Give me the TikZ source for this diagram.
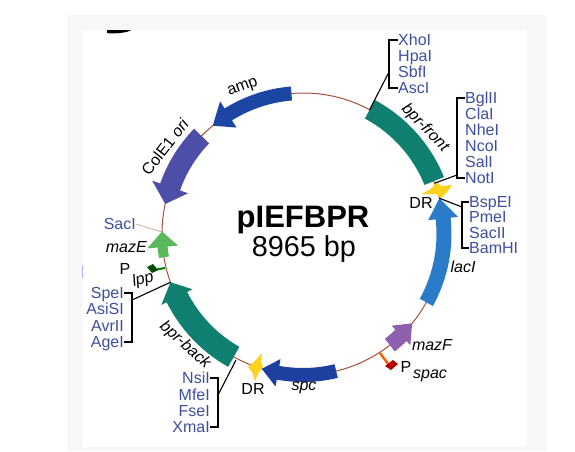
\documentclass[tikz,border=0pt]{standalone}
\usepackage{fontspec}
\setmainfont{Liberation Sans}
\definecolor{ringcol}{HTML}{A8533C}
\definecolor{sitecol}{HTML}{3F4F9F}
\definecolor{bprcol}{HTML}{0F8070}
\definecolor{ampcol}{HTML}{1C46A4}
\definecolor{oricol}{HTML}{4C4EA8}
\definecolor{mazEcol}{HTML}{5CB85C}
\definecolor{lacIcol}{HTML}{2A7CC8}
\definecolor{mazFcol}{HTML}{9060B0}
\definecolor{spccol}{HTML}{1C3FA0}
\definecolor{drcol}{HTML}{FFD21E}
\tikzset{
  site/.style={text=sitecol, inner sep=0pt, font=\fontsize{16}{16}\selectfont, text height=11.5pt, text depth=0pt},
  sitel/.style={site, anchor=west},
  siter/.style={site, anchor=east},
  gene/.style={inner sep=0pt, font=\fontsize{16}{16}\selectfont\itshape},
  plain/.style={inner sep=0pt, font=\fontsize{16}{16}\selectfont},
  bracket/.style={black, line width=1.3pt},
  leader/.style={black, line width=1.1pt},
}
% tail angle, head base angle, tip angle, half width, half head width
\newcommand{\plasmidarrow}[6]{%
  \fill[#1] ({#2}:{141+#5}) arc[start angle=#2, end angle=#3, radius={141+#5}]
    -- ({#3}:{141+#6}) -- ({#4}:141) -- ({#3}:{141-#6}) -- ({#3}:{141-#5})
    arc[start angle=#3, end angle=#2, radius={141-#5}] -- cycle;}
\begin{document}
\begin{tikzpicture}[x=1pt,y=1pt]
  % Fondo
  \useasboundingbox (0,0) rectangle (575,-451);
  \fill[white] (0,0) rectangle (575,-451);
  \fill[black!3, rounded corners=3pt] (67,-15) rectangle (547,-451);
  \fill[white] (82,-30) rectangle (527,-447);
  \fill[black] (107,-30) -- (131,-30) .. controls (128,-33) and (112,-34) .. (107,-33) -- cycle;
  \fill[blue!30] (81.5,-265) rectangle (82.5,-278);

  % Plasmido
  \begin{scope}[shift={(303,-234)}]
    \draw[ringcol, line width=1pt] (0,0) circle (141);
    \coordinate (frontEnd) at (61.8:141);
    \coordinate (lacTip) at (14.7:141);
    \coordinate (backTip) at (200:141);
    % Genes
    \fill[bprcol] (61.8:152) arc[start angle=61.8, end angle=22, radius=152]
      -- (22:131) arc[start angle=22, end angle=61.8, radius=131] -- cycle;
    \plasmidarrow{ampcol}{94.7}{122}{129.8}{7}{15.5}
    \plasmidarrow{oricol}{136}{160.5}{167.7}{10.5}{19}
    \plasmidarrow{mazEcol}{189.5}{185.3}{179}{5}{15.5}
    \plasmidarrow{bprcol}{240.6}{206.6}{200}{11.5}{17.5}
    \plasmidarrow{spccol}{283.6}{259.8}{253}{7}{14}
    \plasmidarrow{mazFcol}{-52}{-46}{-39.3}{8}{13.5}
    \plasmidarrow{lacIcol}{-29}{6.3}{14.7}{7.5}{15}
  \end{scope}

  % DR
  \fill[drcol] (422,-194) -- (432,-188) -- (436,-182) -- (441,-186) -- (452,-185)
    -- (447,-192) -- (441,-198) -- (436,-194) -- cycle;
  \fill[drcol] (248,-367) -- (255,-361) -- (262,-353) -- (261,-362) -- (263,-367)
    -- (259,-372) -- (255,-381) -- (252,-372) -- cycle;

  % Promotores
  \draw[green!50!black, line width=2pt] (165,-268) -- (154,-270);
  \fill[green!30!black] (147,-267) -- (153,-264) -- (158,-270) -- (152,-273) -- cycle;
  \draw[orange!70!red, line width=2.4pt] (380,-353) -- (389,-365);
  \fill[red!70!black] (385,-366) -- (393,-360) -- (398,-364) -- (391,-370) -- cycle;

  % Titulo
  \node[inner sep=0pt, font=\fontsize{31}{32}\selectfont\bfseries] (title) at (303,-220) {pIEFBPR};
  \node[inner sep=0pt, font=\fontsize{28.8}{30}\selectfont] (size) at (304,-249) {8965 bp};

  % Sitios de restriccion
  \node[sitel] (XhoI) at (398,-40) {XhoI};
  \node[sitel] (HpaI) at (398,-56) {HpaI};
  \node[sitel] (SbfI) at (398,-72) {SbfI};
  \node[sitel] (AscI) at (398,-88) {AscI};
  \coordinate (brkA) at (389,-72);
  \draw[bracket] (XhoI.west) -| (brkA) |- (AscI.west);
  \draw[leader] (brkA) -- (frontEnd);

  \node[sitel] (BglII) at (465,-98) {BglII};
  \node[sitel] (ClaI) at (465,-114) {ClaI};
  \node[sitel] (NheI) at (465,-130) {NheI};
  \node[sitel] (NcoI) at (465,-146) {NcoI};
  \node[sitel] (SalI) at (465,-162) {SalI};
  \node[sitel] (NotI) at (465,-178) {NotI};
  \coordinate (brkB) at (457,-175);
  \coordinate (frontFoot) at (435,-183);
  \draw[bracket] (BglII.west) -| (brkB) |- (NotI.west);
  \draw[leader] (brkB) -- (frontFoot);

  \node[sitel] (BspEI) at (469,-202) {BspEI};
  \node[sitel] (PmeI) at (469,-217) {PmeI};
  \node[sitel] (SacII) at (469,-233) {SacII};
  \node[sitel] (BamHI) at (469,-248) {BamHI};
  \coordinate (brkC) at (462,-207);
  \draw[bracket] (BspEI.west) -| (brkC) |- (BamHI.west);
  \draw[leader] (brkC) -- (lacTip);

  \node[siter] (SpeI) at (124,-293) {SpeI};
  \node[siter] (AsiSI) at (124,-309) {AsiSI};
  \node[siter] (AvrII) at (124,-326) {AvrII};
  \node[siter] (AgeI) at (124,-342) {AgeI};
  \coordinate (brkD) at (132,-300);
  \draw[bracket] (SpeI.east) -| (brkD) |- (AgeI.east);
  \draw[leader] (brkD) -- (backTip);

  \node[siter] (NsiI) at (210,-378) {NsiI};
  \node[siter] (MfeI) at (210,-395) {MfeI};
  \node[siter] (FseI) at (210,-411) {FseI};
  \node[siter] (XmaI) at (210,-427) {XmaI};
  \coordinate (brkE) at (218,-395);
  \coordinate (backEnd) at (236,-360);
  \draw[bracket] (NsiI.east) -| (brkE) |- (XmaI.east);
  \draw[leader] (brkE) -- (backEnd);

  \node[siter] (SacI) at (136,-224) {SacI};
  \coordinate (sacSite) at (162,-232);
  \draw[ringcol!70, line width=0.5pt] (SacI.east) -- (sacSite);

  % Nombres
  \node[plain, rotate=20] (ampName) at (243,-88) {amp};
  \node[plain, rotate=52] (oriName) at (165,-147) {ColE1 \textit{ori}};
  \node[gene, rotate=-46] (frontName) at (425,-128) {bpr-front};
  \node[gene, rotate=-42] (backName) at (185,-345) {bpr-back};
  \node[gene, anchor=east] (mazEName) at (147,-247) {mazE};
  \node[gene] (mazFName) at (432,-345) {mazF};
  \node[gene] (spcName) at (304,-388) {spc};
  \node[gene] (lacIName) at (463,-267) {lacI};
  \node[plain] (drTop) at (421,-203) {DR};
  \node[plain] (drBottom) at (253,-389) {DR};
  \node[plain] (pLpp) at (125,-269) {P};
  \node[gene, rotate=15] (lppName) at (143,-280) {lpp};
  \node[plain] (pSpac) at (406,-367) {P};
  \node[gene] (spacName) at (430,-376) {spac};
\end{tikzpicture}
\end{document}
